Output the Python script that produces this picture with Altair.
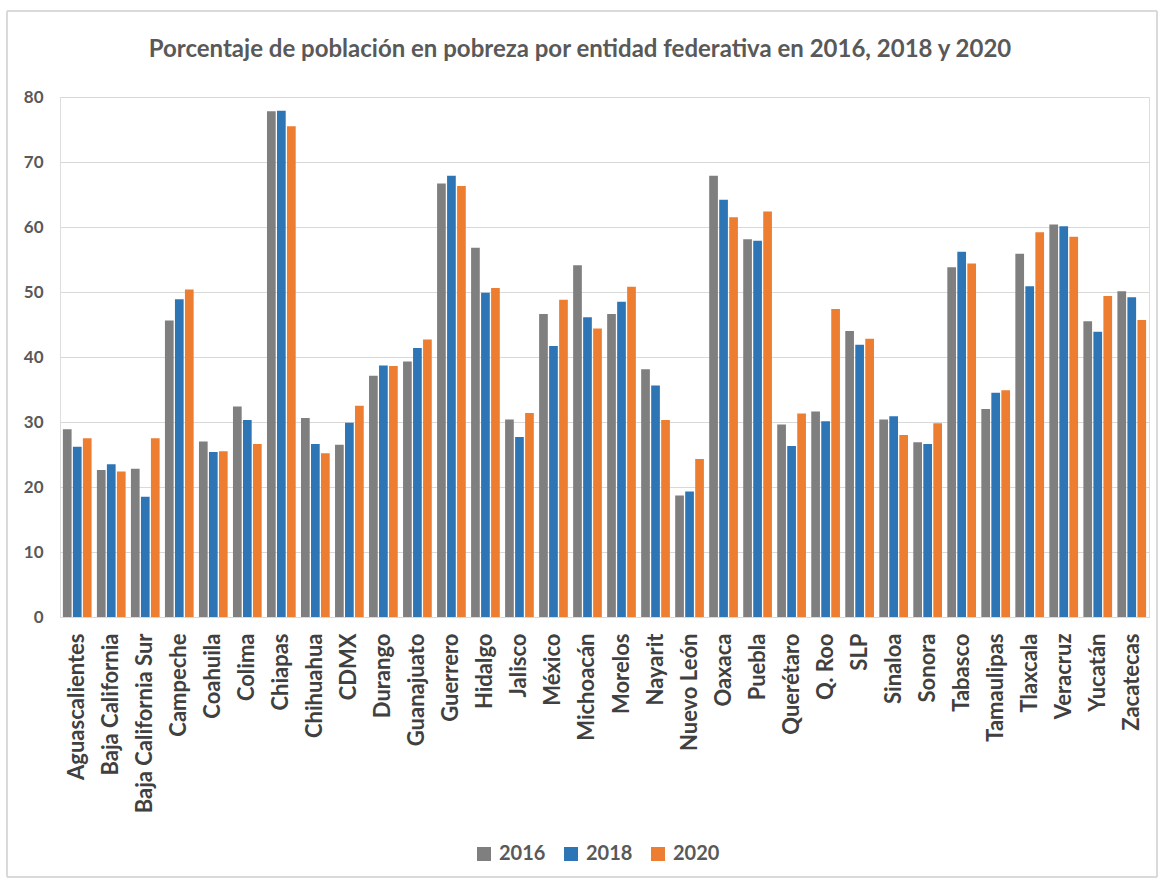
import altair as alt
import pandas as pd

states = [
    "Aguascalientes", "Baja California", "Baja California Sur", "Campeche",
    "Coahuila", "Colima", "Chiapas", "Chihuahua", "CDMX", "Durango",
    "Guanajuato", "Guerrero", "Hidalgo", "Jalisco", "México", "Michoacán",
    "Morelos", "Nayarit", "Nuevo León", "Oaxaca", "Puebla", "Querétaro",
    "Q. Roo", "SLP", "Sinaloa", "Sonora", "Tabasco", "Tamaulipas",
    "Tlaxcala", "Veracruz", "Yucatán", "Zacatecas",
]
years = ["2016", "2018", "2020"]

pobreza_2016 = [28.9, 22.6, 22.8, 45.6, 27.0, 32.4, 77.8, 30.6, 26.5, 37.1,
                39.3, 66.7, 56.8, 30.4, 46.6, 54.1, 46.6, 38.1, 18.7, 67.9,
                58.1, 29.6, 31.6, 44.0, 30.4, 26.9, 53.8, 32.0, 55.9, 60.4,
                45.5, 50.1]
pobreza_2018 = [26.2, 23.5, 18.5, 48.9, 25.4, 30.3, 77.9, 26.6, 29.9, 38.7,
                41.4, 67.9, 49.9, 27.7, 41.7, 46.1, 48.5, 35.6, 19.3, 64.2,
                57.9, 26.3, 30.1, 41.9, 30.9, 26.6, 56.2, 34.5, 50.9, 60.1,
                43.9, 49.2]
pobreza_2020 = [27.5, 22.4, 27.5, 50.4, 25.5, 26.6, 75.5, 25.2, 32.5, 38.6,
                42.7, 66.3, 50.6, 31.4, 48.8, 44.4, 50.8, 30.3, 24.3, 61.5,
                62.4, 31.3, 47.4, 42.8, 28.0, 29.8, 54.4, 34.9, 59.2, 58.5,
                49.4, 45.7]

title_text = "Porcentaje de población en pobreza por entidad federativa en 2016, 2018 y 2020"

series = dict(zip(years, [pobreza_2016, pobreza_2018, pobreza_2020]))
rows = [
    {"Entidad": s, "Año": y, "Porcentaje": series[y][i]}
    for y in years for i, s in enumerate(states)
]
df = pd.DataFrame(rows)

colors = ["#7f7f7f", "#2e75b6", "#ed7d31"]
font = "Lato"

bars = alt.Chart(df).mark_bar().encode(
    x=alt.X(
        "Entidad:N", sort=states, title=None,
        scale=alt.Scale(paddingInner=0.156, paddingOuter=0.085),
        axis=alt.Axis(
            labelAngle=-90, labelFont=font, labelFontSize=22,
            labelFontWeight="bold", labelColor="#404040", labelPadding=16,
            ticks=False, domainColor="#d9d9d9", domainWidth=1,
            labelAlign="right", labelBaseline="middle",
        ),
    ),
    xOffset=alt.XOffset("Año:N", sort=years,
                        scale=alt.Scale(paddingInner=0.13)),
    y=alt.Y(
        "Porcentaje:Q", title=None,
        scale=alt.Scale(domain=[0, 80], nice=False),
        axis=alt.Axis(
            values=list(range(0, 90, 10)), labelFont=font, labelFontSize=17,
            labelFontWeight="bold", labelColor="#595959", labelPadding=17,
            ticks=False, domain=False, gridColor="#d9d9d9", gridWidth=1,
        ),
    ),
    color=alt.Color(
        "Año:N", sort=years,
        scale=alt.Scale(domain=years, range=colors),
        legend=alt.Legend(
            title=None, orient="none", direction="horizontal",
            legendX=414, legendY=747, symbolType="square", symbolSize=196,
            symbolStrokeWidth=0, labelFont=font, labelFontSize=20,
            labelFontWeight="bold", labelColor="#595959", columnPadding=15,
            labelOffset=5,
        ),
    ),
)

# thin frame around the whole chart
frame = alt.Chart(df).mark_rect(
    fill=None, stroke="#d9d9d9", strokeWidth=1, clip=False
).encode(
    x=alt.value(-53), x2=alt.value(1097),
    y=alt.value(-86), y2=alt.value(780),
)

# chart heading, centred on the frame
heading = alt.Chart(pd.DataFrame({"t": [title_text]})).mark_text(
    font=font, fontSize=24, fontWeight="bold", color="#595959",
    align="center", baseline="middle", clip=False,
).encode(
    text="t:N", x=alt.value(520), y=alt.value(-47),
)

chart = alt.layer(frame, bars, heading).properties(
    width=1089,
    height=520,
    autosize=alt.AutoSizeParams(type="none"),
    padding={"left": 60, "top": 97, "right": 15, "bottom": 271},
).configure_view(stroke=None).configure(background="white")

chart.save("out.html", embed_options={"renderer": "svg", "actions": False})
